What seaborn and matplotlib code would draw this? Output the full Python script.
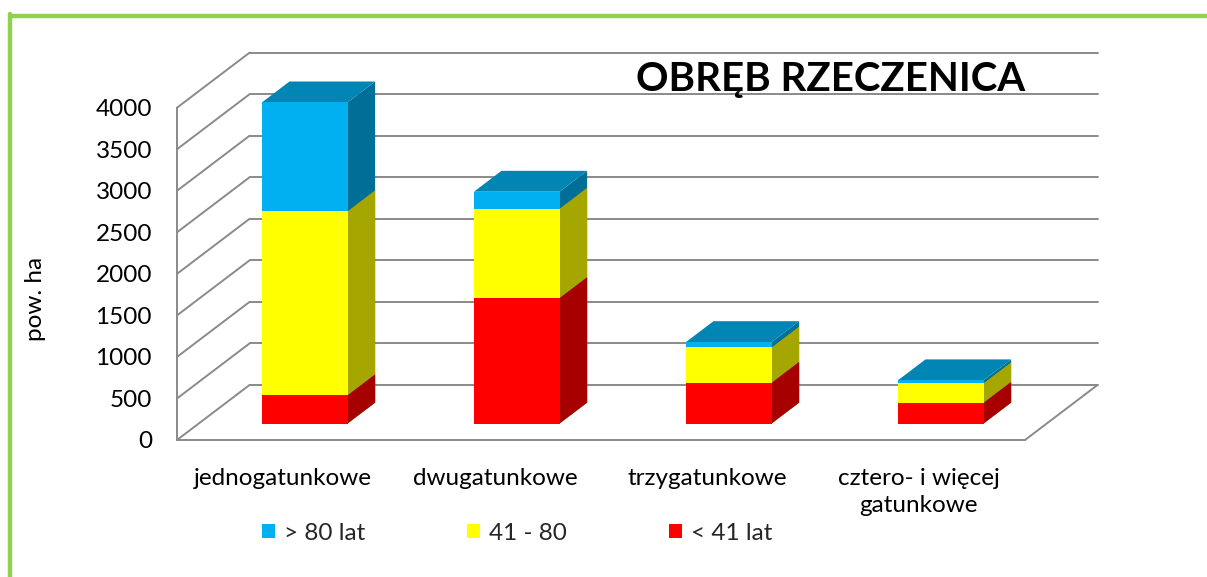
import numpy as np
import pandas as pd
import matplotlib
matplotlib.use("Agg")
import matplotlib.pyplot as plt
from matplotlib.patches import Polygon, Patch
from matplotlib.lines import Line2D
import seaborn as sns

# ---------------- data ----------------
categories = ["jednogatunkowe", "dwugatunkowe", "trzygatunkowe", "cztero- i więcej\ngatunkowe"]
series_names = ["> 80 lat", "41 - 80", "< 41 lat"]
young = [340, 1510, 490, 250]      # < 41 lat
middle = [2215, 1075, 425, 235]    # 41 - 80
old = [1310, 205, 65, 35]          # > 80 lat
y_ticks = [0, 500, 1000, 1500, 2000, 2500, 3000, 3500, 4000]
title = "OBRĘB RZECZENICA"
y_label = "pow. ha"

# ---------------- style ----------------
sns.set_style("white")
plt.rcParams["font.family"] = ["Lato", "DejaVu Sans"]

W, H = 1207, 577
fig = plt.figure(figsize=(W / 100, H / 100), dpi=100)
fig.patch.set_facecolor("white")

# axes = front plane of the 3D box
ax_l, ax_r, ax_b, ax_t = 177, 1025, 440, 107.7
ax = fig.add_axes([ax_l / W, 1 - ax_b / H, (ax_r - ax_l) / W, (ax_b - ax_t) / H])

df = pd.DataFrame({"cat": categories, "young": young, "middle": middle, "old": old})
df["c1"] = df["young"]
df["c2"] = df["young"] + df["middle"]
df["c3"] = df["c2"] + df["old"]

front_cols = ["#00B0F0", "#FFFF00", "#FF0000"]
side_cols = ["#006F98", "#A6A600", "#A60000"]
top_col = "#0085B4"
grid_col = "#8A8A8A"

bw = 0.404
for col, c in zip(["c3", "c2", "c1"], front_cols):
    sns.barplot(data=df, x="cat", y=col, color=c, saturation=1, width=bw,
                linewidth=0, ax=ax, zorder=3, errorbar=None)

ax.set_xlim(-0.5, 3.5)
ax.set_ylim(0, 4000)

# depth geometry (in data units)
px_per_cat = (ax_r - ax_l) / 4
px_per_val = (ax_b - ax_t) / 4000
DX = 72.5 / px_per_cat
DY = 55 / px_per_val
d0, dd = 0.30, 0.38
ox, oy = d0 * DX, d0 * DY
sx, sy = dd * DX, dd * DY

for ci, cont in enumerate(ax.containers):
    for p in cont.patches:
        p.set_x(p.get_x() + ox)
        p.set_y(p.get_y() + oy)
        x0, y0 = p.get_x(), p.get_y()
        x1, y1 = x0 + p.get_width(), y0 + p.get_height()
        side = Polygon([(x1, y0), (x1 + sx, y0 + sy), (x1 + sx, y1 + sy), (x1, y1)],
                       closed=True, facecolor=side_cols[ci], edgecolor="none",
                       zorder=2 + ci * 0.1, clip_on=False)
        ax.add_patch(side)
        if ci == 0:
            top = Polygon([(x0, y1), (x1, y1), (x1 + sx, y1 + sy), (x0 + sx, y1 + sy)],
                          closed=True, facecolor=top_col, edgecolor="none",
                          zorder=2.5, clip_on=False)
            ax.add_patch(top)
        p.set_clip_on(False)

# walls / gridlines
for v in y_ticks:
    ax.add_line(Line2D([-0.5 + DX, 3.5 + DX], [v + DY, v + DY], color=grid_col,
                       lw=1.4, zorder=0.5, clip_on=False))
    ax.add_line(Line2D([-0.5, -0.5 + DX], [v, v + DY], color=grid_col,
                       lw=1.4, zorder=0.5, clip_on=False))
ax.add_line(Line2D([3.5, 3.5 + DX], [0, DY], color=grid_col, lw=1.4, zorder=0.5, clip_on=False))

# axes styling
for s in ["top", "right"]:
    ax.spines[s].set_visible(False)
for s in ["left", "bottom"]:
    ax.spines[s].set_color(grid_col)
    ax.spines[s].set_linewidth(1.4)

fs = 17.5
ax.set_yticks(y_ticks)
ax.set_yticklabels([str(v) for v in y_ticks], fontsize=fs)
ax.tick_params(axis="y", direction="out", length=5, width=1.4, color=grid_col,
               pad=13, labelcolor="black")
ax.set_xticks([-0.5, 0.5, 1.5, 2.5, 3.5])
ax.set_xticklabels([])
ax.tick_params(axis="x", which="major", direction="out", length=6, width=1.4, color=grid_col)
ax.set_xticks([0, 1, 2, 3], minor=True)
ax.set_xticklabels(categories, minor=True, fontsize=fs, linespacing=1.35)
ax.tick_params(axis="x", which="minor", length=0, pad=20, labelcolor="black")
ax.set_xlabel("")
ax.set_ylabel("")
ax.grid(False)
ax.patch.set_alpha(0)

# title and y label
fig.text(830.5 / W, 1 - 91 / H, title, fontsize=29, fontweight="bold",
         ha="center", va="baseline", color="black")
fig.text(36 / W, 1 - 299 / H, y_label, fontsize=fs, rotation=90,
         ha="center", va="center", color="black")

# legend
handles = [Patch(facecolor=c, edgecolor="none", label=n) for c, n in zip(front_cols, series_names)]
fig.legend(handles=handles, loc="center", bbox_to_anchor=(517 / W, 1 - 533 / H), ncol=3,
           frameon=False, fontsize=fs, handlelength=0.55, handleheight=0.55,
           handletextpad=0.35, columnspacing=4.2)

# green border (cropped frame)
green = "#92D050"
fig.add_artist(Line2D([9.5 / W, 1], [1 - 15.5 / H, 1 - 15.5 / H], color=green, lw=3.2,
                      transform=fig.transFigure))
fig.add_artist(Line2D([9.5 / W, 9.5 / W], [1 - 14 / H, 0], color=green, lw=3.2,
                      transform=fig.transFigure))

fig.savefig("out.png", dpi=100, facecolor="white")
